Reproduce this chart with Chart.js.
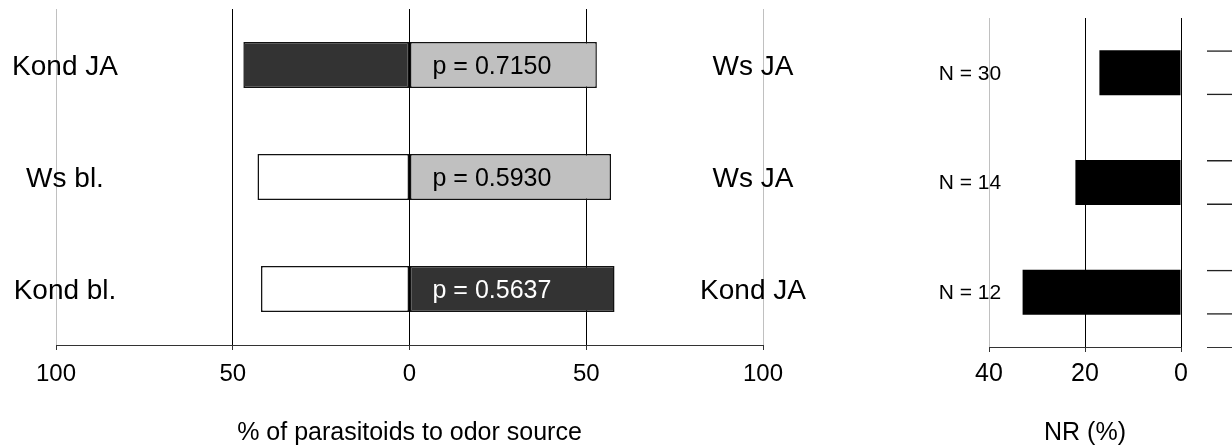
<!DOCTYPE html>
<html>
<head>
<meta charset="utf-8">
<script src="https://cdn.jsdelivr.net/npm/chart.js@4.4.1/dist/chart.umd.min.js"></script>
<style>
  body { margin: 0; background: #fff; }
  .panel { position: absolute; top: 0; height: 448px; }
  #choicePanel { left: 0; width: 830px; }
  #nrPanel { left: 830px; width: 370px; }
  #cutPanel { left: 1200px; width: 32px; }
</style>
</head>
<body>
<div class="panel" id="choicePanel"><canvas id="choiceChart"></canvas></div>
<div class="panel" id="nrPanel"><canvas id="nrChart"></canvas></div>
<div class="panel" id="cutPanel"><canvas id="cutChart"></canvas></div>
<script>
// odor pairs: left source vs right source
const leftSources = ["Kond JA", "Ws bl.", "Kond bl."];
const rightSources = ["Ws JA", "Ws JA", "Kond JA"];
const leftPct = [47, 43, 42];
const rightPct = [53, 57, 58];
const pLabels = ["p = 0.7150", "p = 0.5930", "p = 0.5637"];

// non-responders
const sampleSizes = ["N = 30", "N = 14", "N = 12"];
const nrPct = [17, 22, 33];

// next panel, cut off at the image edge (only bar edges show)
const cutValues = [10, 10, 10];

Chart.defaults.font.family = "'Liberation Sans', Arial, sans-serif";
Chart.defaults.color = "#000";
Chart.defaults.animation = false;

const fixHeight = (h) => (scale) => { scale.height = h; };

const choiceLabels = {
  id: "choiceLabels",
  afterDatasetsDraw(chart) {
    const { ctx, scales: { x, y } } = chart;
    ctx.save();
    ctx.textBaseline = "middle";
    leftSources.forEach((name, i) => {
      const py = y.getPixelForValue(i) + 2;
      ctx.font = "28px 'Liberation Sans', Arial, sans-serif";
      ctx.fillStyle = "#000";
      ctx.textAlign = "center";
      ctx.fillText(name, x.getPixelForValue(-100) + 9, py);
      ctx.fillText(rightSources[i], x.getPixelForValue(100) - 10, py);
      ctx.font = "25px 'Liberation Sans', Arial, sans-serif";
      ctx.textAlign = "left";
      ctx.fillStyle = i === 2 ? "#fff" : "#000";
      ctx.fillText(pLabels[i], x.getPixelForValue(0) + 23, py);
    });
    ctx.restore();
  }
};

new Chart(document.getElementById("choiceChart"), {
  type: "bar",
  data: {
    labels: leftSources,
    datasets: [
      {
        data: leftPct.map(v => -v),
        backgroundColor: ["#333333", "#ffffff", "#ffffff"],
        borderColor: "#111",
        borderWidth: 1.5,
        borderSkipped: false,
        barPercentage: 0.41,
        categoryPercentage: 1
      },
      {
        data: rightPct,
        backgroundColor: ["#c0c0c0", "#c0c0c0", "#333333"],
        borderColor: "#111",
        borderWidth: 1.5,
        borderSkipped: false,
        barPercentage: 0.41,
        categoryPercentage: 1
      }
    ]
  },
  options: {
    indexAxis: "y",
    responsive: true,
    maintainAspectRatio: false,
    layout: { padding: { left: 56, right: 67, top: 9, bottom: 0 } },
    plugins: { legend: { display: false }, tooltip: { enabled: false } },
    scales: {
      y: { display: false, stacked: true },
      x: {
        stacked: true,
        min: -100,
        max: 100,
        afterFit: fixHeight(103),
        ticks: {
          stepSize: 50,
          padding: 10,
          font: { size: 24 },
          callback: v => Math.abs(v)
        },
        grid: {
          color: c => Math.abs(c.tick.value) === 100 ? "#c0c0c0" : "#000",
          tickColor: "#333",
          tickLength: 5
        },
        border: { color: "#333" },
        title: {
          display: true,
          text: "% of parasitoids to odor source",
          font: { size: 25 },
          padding: { top: 0, bottom: 0 }
        }
      }
    }
  },
  plugins: [choiceLabels]
});

const nrLabels = {
  id: "nrLabels",
  afterDatasetsDraw(chart) {
    const { ctx, scales: { x, y } } = chart;
    ctx.save();
    ctx.font = "21px 'Liberation Sans', Arial, sans-serif";
    ctx.fillStyle = "#000";
    ctx.textAlign = "center";
    ctx.textBaseline = "middle";
    sampleSizes.forEach((txt, i) => {
      ctx.fillText(txt, x.getPixelForValue(40) - 19, y.getPixelForValue(i) + 1);
    });
    ctx.restore();
  }
};

new Chart(document.getElementById("nrChart"), {
  type: "bar",
  data: {
    labels: sampleSizes,
    datasets: [{
      data: nrPct,
      backgroundColor: "#000",
      borderWidth: 0,
      barPercentage: 0.41,
      categoryPercentage: 1
    }]
  },
  options: {
    indexAxis: "y",
    responsive: true,
    maintainAspectRatio: false,
    layout: { padding: { left: 159, right: 19, top: 18, bottom: 0 } },
    plugins: { legend: { display: false }, tooltip: { enabled: false } },
    scales: {
      y: { display: false },
      x: {
        reverse: true,
        min: 0,
        max: 40,
        afterFit: fixHeight(101),
        ticks: { stepSize: 20, padding: 7, font: { size: 25 } },
        grid: {
          color: c => c.tick.value === 40 ? "#c0c0c0" : "#000",
          tickColor: "#333",
          tickLength: 5
        },
        border: { color: "#333" },
        title: {
          display: true,
          text: "NR (%)",
          font: { size: 25 },
          padding: { top: 0, bottom: 0 }
        }
      }
    }
  },
  plugins: [nrLabels]
});

new Chart(document.getElementById("cutChart"), {
  type: "bar",
  data: {
    labels: sampleSizes,
    datasets: [{
      data: cutValues,
      backgroundColor: "transparent",
      borderColor: "#222",
      borderWidth: { top: 1.5, bottom: 1.5, left: 0, right: 0 },
      borderSkipped: false,
      barPercentage: 0.41,
      categoryPercentage: 1
    }]
  },
  options: {
    indexAxis: "y",
    responsive: true,
    maintainAspectRatio: false,
    layout: { padding: { left: 7, right: 0, top: 18, bottom: 0 } },
    plugins: { legend: { display: false }, tooltip: { enabled: false } },
    scales: {
      y: { display: false },
      x: {
        min: 0,
        max: 10,
        afterFit: fixHeight(101),
        ticks: { display: false },
        grid: { display: false },
        border: { color: "#333" }
      }
    }
  }
});
</script>
</body>
</html>
